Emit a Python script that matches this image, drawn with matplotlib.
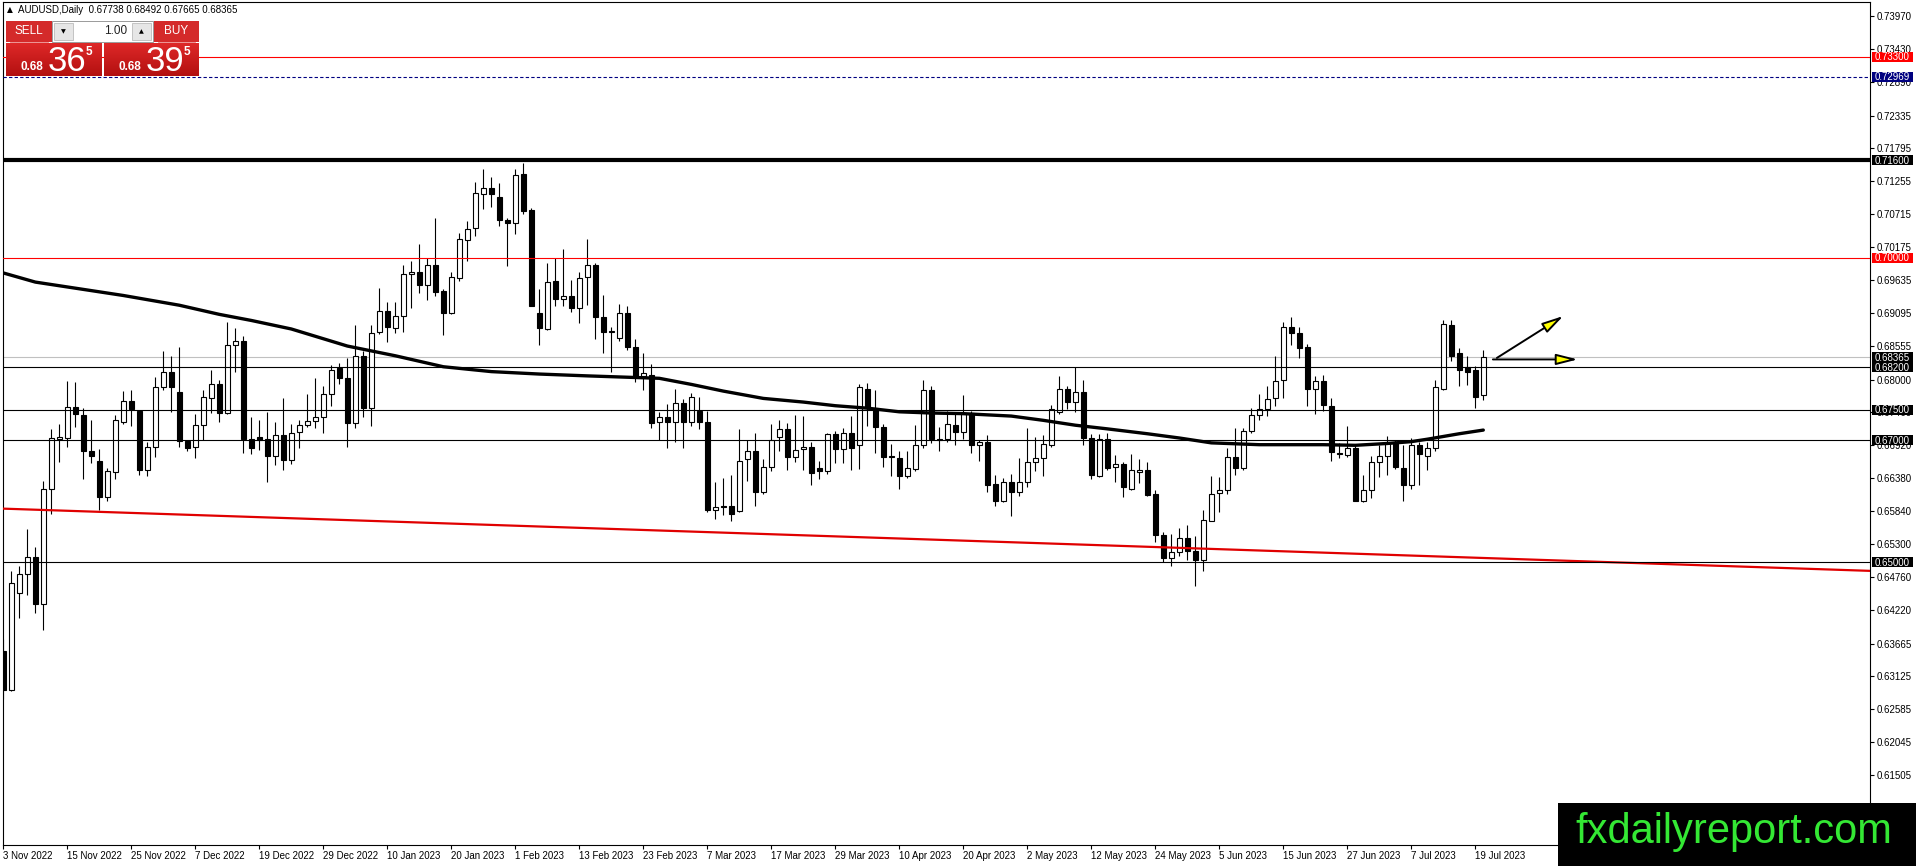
import numpy as np
import matplotlib
matplotlib.use('Agg')
import matplotlib.pyplot as plt
from matplotlib.patches import Rectangle, FancyArrowPatch
from matplotlib.colors import LinearSegmentedColormap

plt.rcParams['font.family'] = ['Liberation Sans', 'DejaVu Sans']

# daily candles, AUDUSD, 3 Nov 2022 .. 20 Jul 2023 (one entry per weekday)
opens = [0.6355, 0.6290, 0.6449, 0.6480, 0.6509, 0.6432, 0.6620, 0.6703, 0.6704, 0.6755,
         0.6741, 0.6682, 0.6667, 0.6607, 0.6648, 0.6731, 0.6765, 0.6748, 0.6652, 0.6689,
         0.6788, 0.6812, 0.6779, 0.6699, 0.6690, 0.6726, 0.6769, 0.6793, 0.6745, 0.6856,
         0.6864, 0.6703, 0.6705, 0.6703, 0.6675, 0.6709, 0.6668, 0.6714, 0.6726, 0.6732,
         0.6738, 0.6776, 0.6819, 0.6803, 0.6728, 0.6838, 0.6753, 0.6878, 0.6913, 0.6885,
         0.6904, 0.6973, 0.6976, 0.6955, 0.6988, 0.6945, 0.6910, 0.6966, 0.7029, 0.7048,
         0.7105, 0.7115, 0.7099, 0.7062, 0.7057, 0.7137, 0.7078, 0.6910, 0.6883, 0.6961,
         0.6933, 0.6937, 0.6917, 0.6968, 0.6988, 0.6903, 0.6878, 0.6869, 0.6910, 0.6853,
         0.6805, 0.6808, 0.6730, 0.6739, 0.6730, 0.6762, 0.6731, 0.6749, 0.6731, 0.6586,
         0.6592, 0.6592, 0.6584, 0.6670, 0.6682, 0.6616, 0.6656, 0.6705, 0.6719, 0.6672,
         0.6686, 0.6690, 0.6654, 0.6650, 0.6711, 0.6686, 0.6713, 0.6692, 0.6785, 0.6753,
         0.6722, 0.6674, 0.6671, 0.6641, 0.6653, 0.6692, 0.6783, 0.6702, 0.6702, 0.6725,
         0.6714, 0.6745, 0.6693, 0.6697, 0.6629, 0.6601, 0.6631, 0.6615, 0.6631, 0.6664,
         0.6671, 0.6693, 0.6747, 0.6785, 0.6763, 0.6780, 0.6704, 0.6642, 0.6702, 0.6656,
         0.6661, 0.6621, 0.6648, 0.6652, 0.6612, 0.6545, 0.6507, 0.6516, 0.6539, 0.6518,
         0.6503, 0.6568, 0.6614, 0.6618, 0.6672, 0.6654, 0.6716, 0.6742, 0.6751, 0.6769,
         0.6799, 0.6886, 0.6876, 0.6853, 0.6785, 0.6797, 0.6757, 0.6680, 0.6676, 0.6687,
         0.6601, 0.6618, 0.6664, 0.6674, 0.6698, 0.6654, 0.6626, 0.6693, 0.6675, 0.6687,
         0.6785, 0.6890, 0.6844, 0.6820, 0.6815, 0.67738]
highs = [0.6374, 0.6485, 0.6494, 0.6554, 0.6525, 0.6634, 0.6718, 0.6727, 0.6798, 0.6796,
         0.6753, 0.6733, 0.6686, 0.6655, 0.6741, 0.6781, 0.6782, 0.6750, 0.6697, 0.6804,
         0.6847, 0.6838, 0.6853, 0.6700, 0.6744, 0.6782, 0.6815, 0.6800, 0.6895, 0.6884,
         0.6872, 0.6738, 0.6734, 0.6746, 0.6730, 0.6769, 0.6727, 0.6734, 0.6777, 0.6803,
         0.6790, 0.6824, 0.6827, 0.6836, 0.6889, 0.6847, 0.6889, 0.6951, 0.6928, 0.6928,
         0.6988, 0.6995, 0.7022, 0.6999, 0.7066, 0.6949, 0.6976, 0.7041, 0.7060, 0.7124,
         0.7145, 0.7132, 0.7122, 0.7066, 0.7146, 0.7156, 0.7082, 0.6949, 0.6991, 0.6999,
         0.7014, 0.6963, 0.6976, 0.7030, 0.6991, 0.6939, 0.6887, 0.6924, 0.6921, 0.6867,
         0.6844, 0.6825, 0.6746, 0.6760, 0.6785, 0.6768, 0.6778, 0.6772, 0.6749, 0.6632,
         0.6638, 0.6643, 0.6719, 0.6700, 0.6713, 0.6669, 0.6727, 0.6733, 0.6729, 0.6742,
         0.6740, 0.6697, 0.6667, 0.6712, 0.6716, 0.6720, 0.6740, 0.6793, 0.6795, 0.6783,
         0.6727, 0.6694, 0.6682, 0.6683, 0.6725, 0.6799, 0.6789, 0.6722, 0.6749, 0.6743,
         0.6775, 0.6749, 0.6700, 0.6709, 0.6643, 0.6638, 0.6645, 0.6671, 0.6720, 0.6705,
         0.6709, 0.6758, 0.6805, 0.6789, 0.6820, 0.6799, 0.6711, 0.6711, 0.6712, 0.6676,
         0.6664, 0.6678, 0.6670, 0.6664, 0.6618, 0.6549, 0.6547, 0.6556, 0.6561, 0.6543,
         0.6585, 0.6642, 0.6640, 0.6687, 0.6720, 0.6720, 0.6753, 0.6776, 0.6789, 0.6838,
         0.6894, 0.6902, 0.6886, 0.6858, 0.6806, 0.6807, 0.6769, 0.6696, 0.6724, 0.6692,
         0.6643, 0.6674, 0.6692, 0.6708, 0.6700, 0.6692, 0.6704, 0.6698, 0.6698, 0.6799,
         0.6898, 0.6898, 0.6851, 0.6839, 0.6822, 0.68492]
lows = [0.6276, 0.6288, 0.6409, 0.6447, 0.6416, 0.6388, 0.6580, 0.6665, 0.6689, 0.6722,
        0.6636, 0.6663, 0.6586, 0.6601, 0.6636, 0.6727, 0.6724, 0.6644, 0.6642, 0.6673,
        0.6782, 0.6747, 0.6689, 0.6683, 0.6671, 0.6700, 0.6745, 0.6731, 0.6743, 0.6813,
        0.6679, 0.6678, 0.6685, 0.6631, 0.6660, 0.6652, 0.6661, 0.6687, 0.6722, 0.6721,
        0.6713, 0.6756, 0.6792, 0.6690, 0.6720, 0.6738, 0.6724, 0.6875, 0.6862, 0.6876,
        0.6878, 0.6918, 0.6942, 0.6931, 0.6937, 0.6873, 0.6907, 0.6962, 0.6995, 0.7035,
        0.7080, 0.7084, 0.7052, 0.6986, 0.7039, 0.7071, 0.6920, 0.6856, 0.6882, 0.6921,
        0.6921, 0.6911, 0.6892, 0.6922, 0.6867, 0.6843, 0.6813, 0.6864, 0.6849, 0.6796,
        0.6783, 0.6721, 0.6701, 0.6687, 0.6697, 0.6688, 0.6724, 0.6718, 0.6582, 0.6571,
        0.6577, 0.6567, 0.6582, 0.6634, 0.6592, 0.6612, 0.6650, 0.6683, 0.6652, 0.6664,
        0.6651, 0.6627, 0.6636, 0.6645, 0.6663, 0.6663, 0.6651, 0.6653, 0.6723, 0.6679,
        0.6656, 0.6642, 0.6621, 0.6638, 0.6650, 0.6687, 0.6696, 0.6683, 0.6697, 0.6692,
        0.6702, 0.6679, 0.6667, 0.6616, 0.6593, 0.6599, 0.6576, 0.6609, 0.6623, 0.6650,
        0.6642, 0.6689, 0.6743, 0.6751, 0.6746, 0.6692, 0.6637, 0.6640, 0.6652, 0.6631,
        0.6607, 0.6619, 0.6630, 0.6608, 0.6533, 0.6500, 0.6493, 0.6511, 0.6504, 0.6461,
        0.6486, 0.6567, 0.6582, 0.6612, 0.6643, 0.6652, 0.6712, 0.6733, 0.6740, 0.6757,
        0.6769, 0.6857, 0.6836, 0.6756, 0.6743, 0.6749, 0.6667, 0.6671, 0.6672, 0.6600,
        0.6599, 0.6605, 0.6640, 0.6643, 0.6653, 0.6601, 0.6621, 0.6626, 0.6652, 0.6682,
        0.6783, 0.6831, 0.6790, 0.6791, 0.6753, 0.67665]
closes = [0.6290, 0.6466, 0.6480, 0.6508, 0.6432, 0.6620, 0.6704, 0.6705, 0.6755, 0.6743,
          0.6683, 0.6674, 0.6607, 0.6649, 0.6733, 0.6765, 0.6752, 0.6652, 0.6689, 0.6788,
          0.6812, 0.6787, 0.6699, 0.6688, 0.6726, 0.6771, 0.6793, 0.6745, 0.6856, 0.6863,
          0.6703, 0.6687, 0.6701, 0.6675, 0.6709, 0.6668, 0.6713, 0.6726, 0.6732, 0.6738,
          0.6777, 0.6815, 0.6803, 0.6728, 0.6838, 0.6753, 0.6876, 0.6913, 0.6887, 0.6904,
          0.6973, 0.6977, 0.6955, 0.6988, 0.6944, 0.6910, 0.6968, 0.7030, 0.7047, 0.7106,
          0.7115, 0.7105, 0.7062, 0.7057, 0.7136, 0.7077, 0.6921, 0.6884, 0.6960, 0.6933,
          0.6937, 0.6917, 0.6966, 0.6988, 0.6903, 0.6878, 0.6880, 0.6910, 0.6853, 0.6806,
          0.6810, 0.6728, 0.6739, 0.6730, 0.6762, 0.6731, 0.6771, 0.6731, 0.6585, 0.6590,
          0.6590, 0.6580, 0.6667, 0.6682, 0.6616, 0.6656, 0.6700, 0.6718, 0.6672, 0.6685,
          0.6690, 0.6646, 0.6650, 0.6711, 0.6686, 0.6713, 0.6687, 0.6787, 0.6753, 0.6722,
          0.6672, 0.6672, 0.6642, 0.6654, 0.6693, 0.6783, 0.6702, 0.6701, 0.6727, 0.6714,
          0.6743, 0.6692, 0.6697, 0.6626, 0.6601, 0.6631, 0.6616, 0.6631, 0.6664, 0.6671,
          0.6694, 0.6751, 0.6785, 0.6763, 0.6780, 0.6704, 0.6644, 0.6702, 0.6655, 0.6661,
          0.6623, 0.6652, 0.6652, 0.6611, 0.6544, 0.6507, 0.6516, 0.6539, 0.6519, 0.6503,
          0.6570, 0.6612, 0.6619, 0.6672, 0.6654, 0.6716, 0.6742, 0.6751, 0.6768, 0.6797,
          0.6887, 0.6876, 0.6851, 0.6785, 0.6798, 0.6758, 0.6681, 0.6678, 0.6687, 0.6601,
          0.6618, 0.6665, 0.6674, 0.6696, 0.6656, 0.6626, 0.6693, 0.6677, 0.6687, 0.6787,
          0.6891, 0.6839, 0.6816, 0.6812, 0.6772, 0.68365]

date_labels = ['3 Nov 2022', '15 Nov 2022', '25 Nov 2022', '7 Dec 2022', '19 Dec 2022',
               '29 Dec 2022', '10 Jan 2023', '20 Jan 2023', '1 Feb 2023', '13 Feb 2023',
               '23 Feb 2023', '7 Mar 2023', '17 Mar 2023', '29 Mar 2023', '10 Apr 2023',
               '20 Apr 2023', '2 May 2023', '12 May 2023', '24 May 2023', '5 Jun 2023',
               '15 Jun 2023', '27 Jun 2023', '7 Jul 2023', '19 Jul 2023']
label_step = 8

# 200-day moving average (bar index, value)
ma_bars = [0, 4, 15, 22, 27, 31, 36, 43, 49, 55, 61, 67, 73, 82, 86, 90, 95, 100, 104,
           108, 112, 116, 120, 126, 130, 134, 138, 143, 147, 151, 157, 165, 169, 173,
           176, 178, 182, 185]
ma_values = [0.6975, 0.6960, 0.6938, 0.6922, 0.6907, 0.6897, 0.6883, 0.6855, 0.6839,
             0.6821, 0.6813, 0.6809, 0.6806, 0.6802, 0.6792, 0.6781, 0.6769, 0.6763,
             0.6757, 0.6753, 0.6747, 0.6745, 0.6744, 0.6740, 0.6733, 0.6725, 0.6719,
             0.6711, 0.6704, 0.6696, 0.6693, 0.6693, 0.6692, 0.6695, 0.6698, 0.6702,
             0.6711, 0.6717]

# red trend line anchors
trend_bars = [0, 185]
trend_prices = [0.6588, 0.6507]

# horizontal levels
level_prices = [0.7330, 0.72969, 0.7160, 0.7000, 0.6820, 0.6750, 0.6700, 0.6500]
level_colors = ['#FF0000', '#000080', 'black', '#FF0000', 'black', 'black', 'black', 'black']
level_widths = [0.8, 0.8, 3.0, 0.8, 0.8, 0.8, 0.8, 0.8]
level_styles = ['-', (0, (3, 2)), '-', '-', '-', '-', '-', '-']
bid_price = 0.68365

# arrows (bar index, price)
arrow_flat = [(186.2, 0.6833), (196.8, 0.6833)]
arrow_up = [(186.7, 0.68355), (195.0, 0.69043)]

yticks = [0.73970, 0.73430, 0.72890, 0.72335, 0.71795, 0.71255, 0.70715, 0.70175,
          0.69635, 0.69095, 0.68555, 0.68000, 0.67460, 0.66920, 0.66380, 0.65840,
          0.65300, 0.64760, 0.64220, 0.63665, 0.63125, 0.62585, 0.62045, 0.61505]

W, H = 1916, 866
fig = plt.figure(figsize=(W / 100, H / 100), dpi=100, facecolor='white')
ax = fig.add_axes([3 / W, 1 - 845 / H, (1870 - 3) / W, (845 - 2) / H])
ax.set_facecolor('white')

n = len(opens)
x = np.arange(n)
o = np.array(opens)
c = np.array(closes)
hi = np.array(highs)
lo = np.array(lows)

ax.vlines(x, lo, hi, color='black', lw=0.8, zorder=2)
up = c >= o
ax.bar(x[up], (c - o)[up], bottom=o[up], width=0.55, color='white',
       edgecolor='black', linewidth=0.8, zorder=3)
ax.bar(x[~up], (o - c)[~up], bottom=c[~up], width=0.55, color='black',
       edgecolor='black', linewidth=0.8, zorder=3)

# moving average and trend line
ax.plot(ma_bars, ma_values, color='black', lw=2.4, zorder=4, solid_capstyle='round')
ax.axline((trend_bars[0], trend_prices[0]), (trend_bars[1], trend_prices[1]),
          color='#E00000', lw=1.6, zorder=4)

for p, col, lw_, ls in zip(level_prices, level_colors, level_widths, level_styles):
    ax.axhline(p, color=col, lw=lw_, ls=ls, zorder=4)
ax.axhline(bid_price, color='#C0C0C0', lw=0.8, zorder=1.5)

for (a, b) in (arrow_flat, arrow_up):
    arr = FancyArrowPatch(a, b, arrowstyle='-|>,head_length=1.3,head_width=0.33',
                          mutation_scale=10, fc='#FFFF00', ec='black', lw=1.4,
                          shrinkA=0, shrinkB=0, zorder=5)
    ax.add_patch(arr)

ax.set_xlim(-0.04, (1870 - 3.3) / 8)
ax.set_ylim(0.60357, 0.74199)

ax.yaxis.tick_right()
ax.set_yticks(yticks)
ax.set_yticklabels(['%.5f' % v for v in yticks])
ax.tick_params(axis='y', length=3, width=0.8, pad=1.5, labelsize=7, colors='black')

label_bars = np.arange(len(date_labels)) * label_step
ax.set_xticks(label_bars)
ax.set_xticklabels(date_labels, ha='left')
ax.tick_params(axis='x', length=3, width=0.8, pad=1.5, labelsize=7, colors='black')
for s in ax.spines.values():
    s.set_linewidth(0.8)
    s.set_color('black')

# overlay in pixel coordinates for panel, price boxes and watermark
ov = fig.add_axes([0, 0, 1, 1], zorder=10)
ov.set_xlim(0, W)
ov.set_ylim(H, 0)
ov.axis('off')
ov.patch.set_alpha(0)


def box(x0, y0, x1, y1, **kw):
    ov.add_patch(Rectangle((x0, y0), x1 - x0, y1 - y0, **kw))


# labels for levels on the price scale
for p, col in list(zip(level_prices, level_colors)) + [(bid_price, 'black')]:
    ypx = H - ax.transData.transform((0, p))[1]
    box(1872, ypx - 5, 1913, ypx + 5, fc=col, ec='none', zorder=5)
    ov.text(1892.5, ypx + 0.3, '%.5f' % p, color='white', fontsize=7,
            ha='center', va='center', zorder=6)

# header
ov.text(7, 10, '\u25b2', fontsize=5.5, ha='left', va='center',
        family=['DejaVu Sans'])
ov.text(18, 10, 'AUDUSD,Daily  %.5f %.5f %.5f %.5f' % (opens[-1], highs[-1], lows[-1], closes[-1]),
        fontsize=7, ha='left', va='center')

# one-click trading panel
grad = np.linspace(0, 1, 50).reshape(-1, 1)
red_cmap = LinearSegmentedColormap.from_list('r', ['#DE2828', '#B31010'])
box(6, 21, 52, 42, fc='#D42A2A', ec='none')
box(154, 21, 199, 42, fc='#D42A2A', ec='none')
ov.plot([10, 48], [41.5, 41.5], color='#E98080', lw=0.6)
ov.plot([158, 195], [41.5, 41.5], color='#E98080', lw=0.6)
ov.text(29, 31.5, 'SELL', color='white', fontsize=8.5, ha='center', va='center')
ov.text(176.5, 31.5, 'BUY', color='white', fontsize=8.5, ha='center', va='center')
box(52, 21, 153, 42, fc='white', ec='#9A9A9A', lw=0.7)
box(54, 23, 73, 40, fc='#E6E6E6', ec='#B0B0B0', lw=0.5)
box(132, 23, 151, 40, fc='#E6E6E6', ec='#B0B0B0', lw=0.5)
ov.text(63.5, 31.5, '\u25bc', fontsize=4.5, ha='center', va='center', family=['DejaVu Sans'])
ov.text(141.5, 31.5, '\u25b2', fontsize=4.5, ha='center', va='center', family=['DejaVu Sans'])
ov.text(127, 31.5, '1.00', fontsize=8.5, ha='right', va='center', color='#222222')

for x0, x1, big in ((6, 102, '36'), (104, 199, '39')):
    ov.imshow(grad, extent=(x0, x1, 76, 43), cmap=red_cmap, aspect='auto', zorder=1)
    ov.text(x0 + 15, 70.5, '0.68', color='white', fontsize=8.5, fontweight='bold',
            ha='left', va='baseline', zorder=2)
    ov.text(x0 + 42, 71, big, color='white', fontsize=25, ha='left', va='baseline', zorder=2)
    ov.text(x0 + 80, 46, '5', color='white', fontsize=8.5, fontweight='bold',
            ha='left', va='top', zorder=2)
ov.set_xlim(0, W)
ov.set_ylim(H, 0)

# watermark
box(1558, 803, W, H, fc='black', ec='none', zorder=7)
ov.text(1575, 843, 'fxdailyreport.com', color='#34E834', fontsize=30,
        ha='left', va='baseline', zorder=8)

fig.savefig('out.png', dpi=100, facecolor='white')
